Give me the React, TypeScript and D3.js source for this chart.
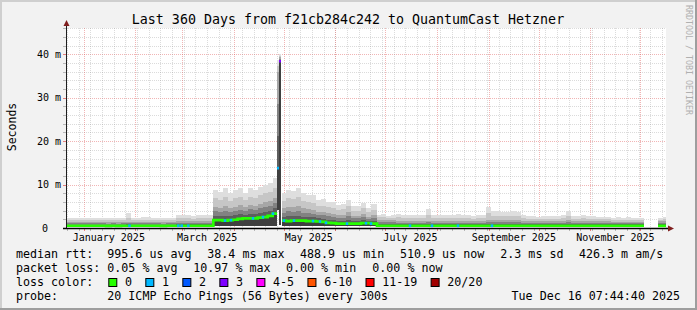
import React from 'react';
import * as d3 from 'd3';

const END = new Date(2025, 11, 16, 7, 44, 40);
const START = new Date(END.getTime() - 360 * 86400000);

// start day (offset from START) of each consolidated sample column
const sampleDay = [
  0, 3, 6, 9, 12, 15, 18, 21, 24, 27, 30, 33, 36, 39, 42, 45, 48, 51, 54, 57, 60, 63, 66, 69, 72, 75, 78, 81, 84, 87,
  88.4, 91, 94, 97, 100, 103, 106, 109, 112, 115, 118, 121, 124,
  126.6, 127.8,
  129.0,
  129.6, 132, 135, 138, 141, 144, 147, 150, 153, 156, 159, 162, 165, 168, 171, 174, 177, 180, 183,
  186.6, 189, 192, 195, 198, 201, 204, 207, 210, 213, 216, 219, 222, 225, 228, 231, 234, 237, 240, 243, 246, 249, 252, 255,
  258, 261, 264, 267, 270, 273, 276, 279, 282, 285, 288, 291, 294, 297, 300, 303, 306, 309, 312, 315, 318, 321, 324, 327,
  330, 333, 336, 339, 342, 345,
  346.8,
  355.2, 358.2,
];

// median rtt (ms)
const medianMs: (number | null)[] = [
  0.52, 0.52, 0.52, 0.52, 0.52, 0.52, 0.52, 0.52, 0.48, 0.52, 0.48, 0.52, 0.52, 0.52, 0.52, 0.52, 0.52, 0.52, 0.52, 0.48,
  0.52, 0.52, 0.52, 0.52, 0.52, 0.52, 0.52, 0.52, 0.52, 0.52,
  1.8, 1.8, 1.7, 1.8, 1.9, 2.1, 2.2, 2.2, 2.2, 2.4, 2.5, 2.8, 3.3,
  13.8, 38.4,
  null,
  1.7, 1.6, 1.7, 1.7, 1.7, 1.6, 1.6, 1.5, 1.4, 1.2, 1.1, 1.0, 1.0, 1.0, 1.0, 1.0, 1.1, 1.1, 1.0,
  0.52, 0.52, 0.52, 0.52, 0.52, 0.52, 0.52, 0.52, 0.52, 0.52, 0.52, 0.52, 0.52, 0.52, 0.52, 0.52, 0.52, 0.52, 0.52, 0.52,
  0.52, 0.52, 0.52, 0.52, 0.52, 0.52, 0.52, 0.52, 0.52, 0.52, 0.52, 0.52, 0.52, 0.52, 0.52, 0.52, 0.52, 0.52, 0.52, 0.52,
  0.52, 0.52, 0.52, 0.52, 0.52, 0.52, 0.52, 0.52, 0.52, 0.52, 0.52, 0.52, 0.52, 0.52,
  null,
  0.5, 0.5,
];

// upper-middle of the ping spread (ms)
const p75Ms: (number | null)[] = [
  1.3, 1.3, 1.3, 1.3, 1.3, 1.3, 1.3, 1.3, 1.3, 1.3, 1.3, 1.3, 1.4, 1.3, 1.3, 1.3, 1.3, 1.3, 1.3, 1.3,
  1.3, 1.3, 1.5, 1.5, 1.5, 1.5, 1.5, 1.5, 1.5, 1.5,
  4.9, 4.6, 5.0, 4.5, 4.9, 5.2, 4.8, 5.3, 5.1, 5.6, 5.9, 6.3, 7.0,
  36.0, 39.3,
  null,
  4.5, 4.9, 4.8, 5.0, 4.5, 4.3, 4.1, 3.6, 3.7, 3.4, 3.3, 3.0, 3.1, 3.6, 2.8, 2.8, 3.2, 2.6, 3.0,
  1.9, 1.9, 1.8, 1.8, 1.6, 1.6, 1.5, 1.5, 1.5, 1.5, 1.7, 1.5, 1.5, 1.5, 1.5, 1.5, 1.6, 1.5, 1.5, 1.5,
  1.5, 1.5, 1.9, 1.8, 1.8, 1.8, 1.8, 1.8, 1.8, 1.6, 1.5, 1.5, 1.5, 1.5, 1.5, 1.5, 1.5, 1.5, 1.8, 1.5,
  1.5, 1.5, 1.5, 1.5, 1.5, 1.5, 1.5, 1.4, 1.4, 1.4, 1.4, 1.4, 1.4, 1.4,
  null,
  1.5, 1.5,
];

// top of the smoke (ms)
const topMs: (number | null)[] = [
  2.2, 2.2, 2.2, 2.3, 2.2, 2.3, 2.4, 2.3, 2.4, 2.2, 2.3, 2.4, 3.4, 2.3, 2.4, 2.6, 2.5, 2.3, 2.4, 2.2,
  2.3, 2.2, 3.0, 2.9, 3.0, 2.8, 3.0, 2.9, 3.1, 2.9,
  8.7, 8.2, 9.1, 8.0, 8.7, 9.1, 8.0, 9.1, 8.7, 9.4, 10.0, 10.4, 11.4,
  38.6, 40.0,
  null,
  8.0, 8.7, 8.5, 9.1, 8.0, 7.7, 7.5, 6.4, 6.6, 6.1, 6.0, 5.3, 5.5, 6.5, 5.0, 5.0, 5.8, 4.6, 5.5,
  3.0, 3.2, 2.8, 2.9, 3.3, 3.1, 3.0, 2.9, 3.1, 3.0, 4.4, 3.1, 3.0, 2.9, 3.1, 3.0, 3.2, 2.9, 3.0, 2.8,
  3.0, 2.9, 4.9, 3.9, 3.8, 3.7, 3.6, 3.9, 3.7, 3.1, 2.7, 2.7, 2.6, 2.7, 2.8, 2.8, 2.7, 2.9, 3.9, 2.8,
  2.7, 2.9, 2.8, 2.7, 2.6, 2.5, 2.6, 2.4, 2.5, 2.3, 2.5, 2.4, 2.4, 2.3,
  null,
  2.4, 2.5,
];

// lowest ping (ms)
const lowMs: (number | null)[] = [
  0.42, 0.42, 0.42, 0.42, 0.42, 0.42, 0.42, 0.42, 0.42, 0.42, 0.42, 0.42, 0.42, 0.42, 0.42, 0.42, 0.42, 0.42, 0.42, 0.42,
  0.42, 0.42, 0.42, 0.42, 0.42, 0.42, 0.42, 0.42, 0.42, 0.42,
  0.55, 0.55, 0.55, 0.55, 0.55, 0.55, 0.55, 0.55, 0.55, 0.55, 0.55, 0.55, 0.55,
  4.1, 0.6,
  null,
  0.55, 0.55, 0.55, 0.55, 0.55, 0.55, 0.55, 0.55, 0.55, 0.55, 0.55, 0.55, 0.55, 0.55, 0.55, 0.55, 0.55, 0.55, 0.55,
  0.42, 0.42, 0.42, 0.42, 0.42, 0.42, 0.42, 0.42, 0.42, 0.42, 0.42, 0.42, 0.42, 0.42, 0.42, 0.42, 0.42, 0.42, 0.42, 0.42,
  0.42, 0.42, 0.42, 0.42, 0.42, 0.42, 0.42, 0.42, 0.42, 0.42, 0.42, 0.42, 0.42, 0.42, 0.42, 0.42, 0.42, 0.42, 0.42, 0.42,
  0.42, 0.42, 0.42, 0.42, 0.42, 0.42, 0.42, 0.42, 0.42, 0.42, 0.42, 0.42, 0.42, 0.42,
  null,
  0.42, 0.42,
];

// packet loss count for whole columns (the spike columns)
const spikeLossDay = [126.6, 127.8];
const spikeLossCount = [1, 3];

// short loss events drawn on the median line
const lossEventDay = [38.1, 67.4, 69.4, 73.4, 95.4, 99.0, 112.2, 118.2, 124.2, 130.8, 136.8, 148.2, 152.4, 156.0, 168.6, 180.0, 183.0, 206.4, 219.6, 235.2, 255.6];
const lossEventCount = [1, 1, 1, 1, 1, 1, 1, 1, 1, 1, 1, 1, 1, 1, 1, 1, 1, 1, 1, 1, 1];

const lossLabels = ['0', '1', '2', '3', '4-5', '6-10', '11-19', '20/20'];
const lossColors = ['#26ff00', '#00b8ff', '#0059ff', '#7e00ff', '#ff00ff', '#ff5500', '#ff0000', '#a10000'];
const lossThresholds = [0, 1, 2, 3, 5, 10, 19, 20];

const yTicks = [2, 4, 6, 8, 10, 12, 14, 16, 18, 20, 22, 24, 26, 28, 30, 32, 34, 36, 38, 40, 42, 44, 46];
const yLabelTicks = [0, 10, 20, 30, 40];

const TITLE = 'Last 360 Days from f21cb284c242 to QuantumCast Hetzner';
const legendRow1 = [['median rtt:', 16], ['995.6 us avg', 107.3], ['38.4 ms max', 207.3], ['488.9 us min', 300], ['510.9 us now', 400], ['2.3 ms sd', 500.3], ['426.3 m am/s', 579]] as [string, number][];
const legendRow2 = [['packet loss:', 16], ['0.05 % avg', 107.3], ['10.97 % max', 193.3], ['0.00 % min', 286], ['0.00 % now', 372.3]] as [string, number][];
const probeText = '20 ICMP Echo Pings (56 Bytes) every 300s';
const stampText = 'Tue Dec 16 07:44:40 2025';

const FONT = 'DejaVu Sans Mono, monospace';
const SMOKE = ['#404040', '#5e5e5e', '#828282', '#a6a6a6', '#c6c6c6', '#dedede'];
const GRID_MINOR = 'rgba(143,143,143,0.32)';
const GRID_MAJOR = 'rgba(222,79,79,0.42)';

function lossColor(n: number) {
  let idx = 0;
  lossThresholds.forEach((t, i) => { if (n >= t) idx = i; });
  return lossColors[idx];
}

export default function App() {
  const W = 697, H = 310;
  const x = d3.scaleTime().domain([START, END]).range([66, 666]);
  const y = d3.scaleLinear().domain([0, 46.06]).range([228, 28]);
  const dayDate = (d: number) => new Date(START.getTime() + d * 86400000);
  const xd = (d: number) => x(dayDate(d));
  const n = sampleDay.length;
  const endDay = (i: number) => (i + 1 < n ? sampleDay[i + 1] : 360);

  // smoke rects
  const smoke: JSX.Element[] = [];
  for (let i = 0; i < n; i++) {
    const med = medianMs[i];
    if (med == null) continue;
    const lo = lowMs[i] as number, p = p75Ms[i] as number, tp = topMs[i] as number;
    const xa = xd(sampleDay[i]), xb = xd(endDay(i));
    const bounds: [number, number, string][] = [
      [lo, med, SMOKE[0]],
      [med, med + (p - med) / 3, SMOKE[1]],
      [med + (p - med) / 3, med + (2 * (p - med)) / 3, SMOKE[2]],
      [med + (2 * (p - med)) / 3, p, SMOKE[3]],
      [p, p + (tp - p) / 2, SMOKE[4]],
      [p + (tp - p) / 2, tp, SMOKE[5]],
    ];
    bounds.forEach(([a, b, c], k) => {
      smoke.push(<rect key={`s${i}-${k}`} x={xa} width={xb - xa} y={y(b)} height={y(a) - y(b)} fill={c} />);
    });
  }

  // median line runs (no loss)
  const spikeSet = new Set(spikeLossDay);
  const runs: [number, number][][] = [];
  let cur: [number, number][] = [];
  for (let i = 0; i < n; i++) {
    const med = medianMs[i];
    if (med == null || spikeSet.has(sampleDay[i])) {
      if (cur.length) runs.push(cur);
      cur = [];
      continue;
    }
    cur.push([xd(sampleDay[i]), y(med)]);
    const nextOk = i + 1 < n && medianMs[i + 1] != null && !spikeSet.has(sampleDay[i + 1]);
    if (!nextOk) cur.push([xd(endDay(i)), y(med)]);
  }
  if (cur.length) runs.push(cur);
  const line = d3.line<[number, number]>().x(d => d[0]).y(d => d[1]).curve(d3.curveStepAfter);

  const medAt = (d: number) => {
    let idx = 0;
    for (let i = 0; i < n; i++) if (sampleDay[i] <= d) idx = i;
    return medianMs[idx] as number;
  };

  const weeks = d3.timeSunday.range(START, END);
  const months = d3.timeMonth.range(d3.timeMonth.ceil(START), END);
  const labelMonths = months.filter(m => m.getMonth() % 2 === 0);
  const fmt = d3.timeFormat('%B %Y');

  // legend box positions
  let bx = 108.3;
  const boxes = lossLabels.map((lab, i) => {
    const r = { x: bx, lab, col: lossColors[i] };
    bx += 30 + lab.length * 7.02;
    return r;
  });

  return (
    <svg width={W} height={H} style={{ position: 'absolute', left: 0, top: 0 }} fontFamily={FONT}>
      <rect x={0} y={0} width={W} height={H} fill="#f2f2f2" />
      <rect x={0} y={0} width={W} height={2} fill="#cfcfcf" />
      <rect x={0} y={0} width={2} height={H} fill="#cfcfcf" />
      <rect x={0} y={H - 2} width={W} height={2} fill="#9e9e9e" />
      <rect x={W - 2} y={0} width={2} height={H} fill="#9e9e9e" />
      <rect x={66} y={28} width={600} height={200} fill="#ffffff" />

      {/* grid */}
      <g shapeRendering="crispEdges">
        {yTicks.map(t => (
          <line key={`h${t}`} x1={66} x2={666} y1={Math.round(y(t)) + 0.5} y2={Math.round(y(t)) + 0.5}
            stroke={t % 10 === 0 ? GRID_MAJOR : GRID_MINOR} strokeDasharray="1,1" />
        ))}
        {weeks.map(w => (
          <line key={`w${+w}`} x1={Math.round(x(w)) + 0.5} x2={Math.round(x(w)) + 0.5} y1={28} y2={228}
            stroke={GRID_MINOR} strokeDasharray="1,1" />
        ))}
        {months.map(m => (
          <line key={`m${+m}`} x1={Math.round(x(m)) + 0.5} x2={Math.round(x(m)) + 0.5} y1={28} y2={228}
            stroke={GRID_MAJOR} strokeDasharray="1,1" />
        ))}
      </g>

      {/* smoke */}
      <g shapeRendering="crispEdges">{smoke}</g>

      {/* median */}
      {runs.map((r, i) => (
        <path key={`r${i}`} d={line(r) || ''} fill="none" stroke={lossColors[0]} strokeWidth={2.7} />
      ))}
      {spikeLossDay.map((d, i) => {
        const idx = sampleDay.indexOf(d);
        return (
          <line key={`sp${i}`} x1={xd(d)} x2={xd(endDay(idx))} y1={y(medianMs[idx] as number)} y2={y(medianMs[idx] as number)}
            stroke={lossColor(spikeLossCount[i])} strokeWidth={2.7} />
        );
      })}
      {lossEventDay.map((d, i) => (
        <line key={`le${i}`} x1={xd(d - 0.75)} x2={xd(d + 0.75)} y1={y(medAt(d))} y2={y(medAt(d))}
          stroke={lossColor(lossEventCount[i])} strokeWidth={2.7} />
      ))}

      {/* axis ticks */}
      <g shapeRendering="crispEdges">
        {weeks.map(w => (
          <line key={`tw${+w}`} x1={Math.round(x(w)) + 0.5} x2={Math.round(x(w)) + 0.5} y1={228} y2={231} stroke="rgba(143,143,143,0.6)" />
        ))}
        {months.map(m => (
          <line key={`tm${+m}`} x1={Math.round(x(m)) + 0.5} x2={Math.round(x(m)) + 0.5} y1={228} y2={231} stroke="rgba(222,79,79,0.7)" />
        ))}
        {yTicks.map(t => (
          <line key={`ty${t}`} x1={63} x2={66} y1={Math.round(y(t)) + 0.5} y2={Math.round(y(t)) + 0.5}
            stroke={t % 10 === 0 ? 'rgba(222,79,79,0.7)' : 'rgba(143,143,143,0.6)'} />
        ))}
      </g>

      {/* axes */}
      <line x1={66.5} x2={66.5} y1={229} y2={24} stroke="#1f1f1f" strokeWidth={1} />
      <path d="M63.5,26 L69.5,26 L66.5,20 Z" fill="#801f1f" />
      <line x1={63} x2={669} y1={228.5} y2={228.5} stroke="#000" strokeWidth={1.4} />
      <path d="M668,225.5 L668,231.5 L674,228.5 Z" fill="#801f1f" />

      {/* y labels */}
      {yLabelTicks.map(t => (
        <text key={`yl${t}`} x={t === 0 ? 48 : 61} y={y(t) + 3.6} fontSize={10} textAnchor="end" fill="#000">
          {t === 0 ? '0' : `${t} m`}
        </text>
      ))}
      {/* x labels */}
      {labelMonths.map(m => (
        <text key={`xl${+m}`} x={x(d3.timeDay.offset(m, 15))} y={241} fontSize={10} textAnchor="middle" fill="#000">
          {fmt(m)}
        </text>
      ))}

      <text x={348} y={24} fontSize={13.3} textAnchor="middle" fill="#000">{TITLE}</text>
      <text transform="translate(15.5,127) rotate(-90)" fontSize={11.5} textAnchor="middle" fill="#000">Seconds</text>
      <text transform="translate(685.5,5) rotate(90)" fontSize={8.3} fill="#b0b0b0">RRDTOOL / TOBI OETIKER</text>

      {/* legend */}
      <g fontSize={11.67} fill="#000">
        {legendRow1.map(([t, px]) => <text key={`l1${t}`} x={px} y={258}>{t}</text>)}
        {legendRow2.map(([t, px]) => <text key={`l2${t}`} x={px} y={272}>{t}</text>)}
        <text x={16} y={286}>loss color:</text>
        {boxes.map(b => (
          <g key={`b${b.lab}`}>
            <rect x={b.x + 0.5} y={278.5} width={8} height={8} fill={b.col} stroke="#000" strokeWidth={1} />
            <text x={b.x + 16.7} y={286}>{b.lab}</text>
          </g>
        ))}
        <text x={16} y={300}>probe:</text>
        <text x={107.3} y={300}>{probeText}</text>
        <text x={680} y={300} textAnchor="end">{stampText}</text>
      </g>
    </svg>
  );
}
